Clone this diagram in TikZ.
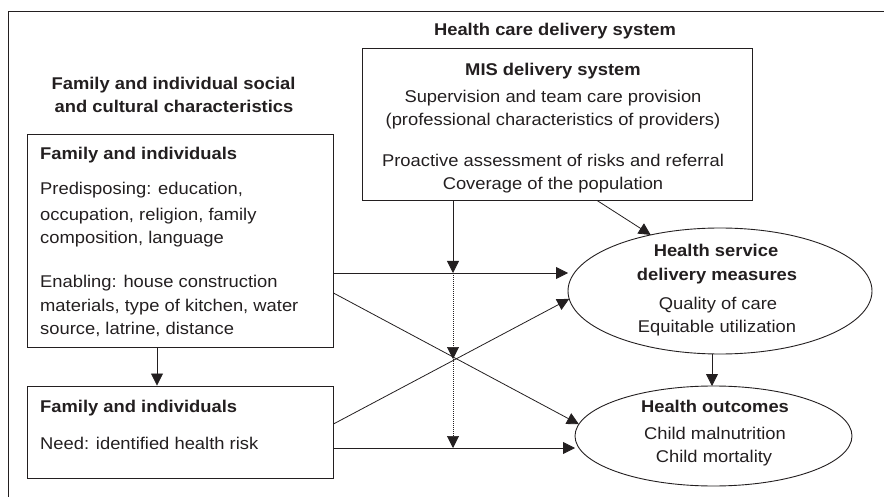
\documentclass[tikz,border=0pt]{standalone}
\usepackage{fontspec}
\setmainfont[FakeStretch=1.08]{Liberation Sans}
\usetikzlibrary{arrows.meta,shapes.geometric}
\definecolor{ink}{HTML}{231F20}
\begin{document}
\begin{tikzpicture}[x=1pt,y=-1pt,
  every node/.style={text=ink},
  txt/.style={inner sep=0pt, anchor=mid west, font=\fontsize{17}{20}\selectfont},
  ctr/.style={inner sep=0pt, anchor=mid, font=\fontsize{17}{20}\selectfont},
  bld/.style={font=\fontsize{17}{20}\selectfont\bfseries},
  boxx/.style={draw=ink, line width=0.9pt, inner sep=0pt},
  ell/.style={draw=ink, ellipse, line width=0.9pt, inner sep=0pt, outer sep=0pt},
  arr/.style={draw=ink, line width=0.8pt, -{Triangle[length=12pt,width=12pt]}},
  dotarr/.style={draw=ink, line width=0.6pt, dash pattern=on 1pt off 1pt, -{Triangle[length=12pt,width=12pt]}}
]
\useasboundingbox (0,0) rectangle (884,497);
\draw[ink, line width=0.9pt] (8,497) -- (8,11) -- (884,11);

% boxes
\node[boxx, minimum width=306pt, minimum height=213pt] (b1) at (180,240.5) {};
\node[boxx, minimum width=306pt, minimum height=92pt] (b2) at (180,432) {};
\node[boxx, minimum width=390pt, minimum height=152pt] (mis) at (557,124) {};
\node[ell, minimum width=304pt, minimum height=126pt] (e1) at (720,291) {};
\node[ell, minimum width=277pt, minimum height=100pt] (e2) at (713.5,436) {};

% titles
\node[ctr, bld] (tl1) at (173.5,87) {Family and individual social};
\node[ctr, bld] (tl2) at (174,110) {and cultural characteristics};
\node[ctr, bld] (tr1) at (555,33) {Health care delivery system};

% box 1 text
\node[txt, bld] (b1t) at (40,157) {Family and individuals};
\node[txt] (b1a) at (40,192) {Predisposing: education,};
\node[txt] (b1b) at (40,218) {occupation, religion, family};
\node[txt] (b1c) at (40,241) {composition, language};
\node[txt] (b1d) at (40,285) {Enabling: house construction};
\node[txt] (b1e) at (40,309) {materials, type of kitchen, water};
\node[txt] (b1f) at (40,332) {source, latrine, distance};

% box 2 text
\node[txt, bld] (b2t) at (40,410) {Family and individuals};
\node[txt] (b2a) at (40,447) {Need: identified health risk};

% MIS text
\node[ctr, bld] (m1) at (553,73) {MIS delivery system};
\node[ctr] (m2) at (553,100) {Supervision and team care provision};
\node[ctr] (m3) at (553,123) {(professional characteristics of providers)};
\node[ctr] (m4) at (553,164) {Proactive assessment of risks and referral};
\node[ctr] (m5) at (553,187) {Coverage of the population};

% ellipse 1 text
\node[ctr, bld] (h1) at (716,254) {Health service};
\node[ctr, bld] (h2) at (717,278) {delivery measures};
\node[ctr] (h3) at (718,307) {Quality of care};
\node[ctr] (h4) at (717,330) {Equitable utilization};

% ellipse 2 text
\node[ctr, bld] (o1) at (715,410) {Health outcomes};
\node[ctr] (o2) at (715,437) {Child malnutrition};
\node[ctr] (o3) at (714,460) {Child mortality};

% connector anchor coordinates
\coordinate (a1) at ([yshift=-32.5pt]b1.east);
\coordinate (a2) at ([yshift=-52.5pt]b1.east);
\coordinate (a3) at ([yshift=8pt]b2.east);
\coordinate (a4) at ([yshift=-16pt]b2.east);
\coordinate (v0) at ([xshift=-104pt]mis.south);
\coordinate (vx) at (453,359);
\coordinate (ms) at ([xshift=40pt]mis.south);
\coordinate (es) at ([xshift=-8pt]e1.south);

% connectors
\draw[arr] ([xshift=-23pt]b1.south) -- ([xshift=-23pt]b2.north);
\draw[arr] (a1) -- (a1 -| e1.west);
\draw[arr] (a2) -- (e2.175.5);
\draw[arr] (a3) -- (e1.183);
\draw[arr] (a4) -- (a4 -| e2.west);
\draw[arr] (v0) -- (v0 |- a1);
\draw[dotarr] (v0 |- a1) -- (vx);
\draw[dotarr] (vx) -- (v0 |- a4);
\draw[arr] (ms) -- (e1.141);
\draw[arr] (es) -- (es |- e2.north);
\end{tikzpicture}
\end{document}
